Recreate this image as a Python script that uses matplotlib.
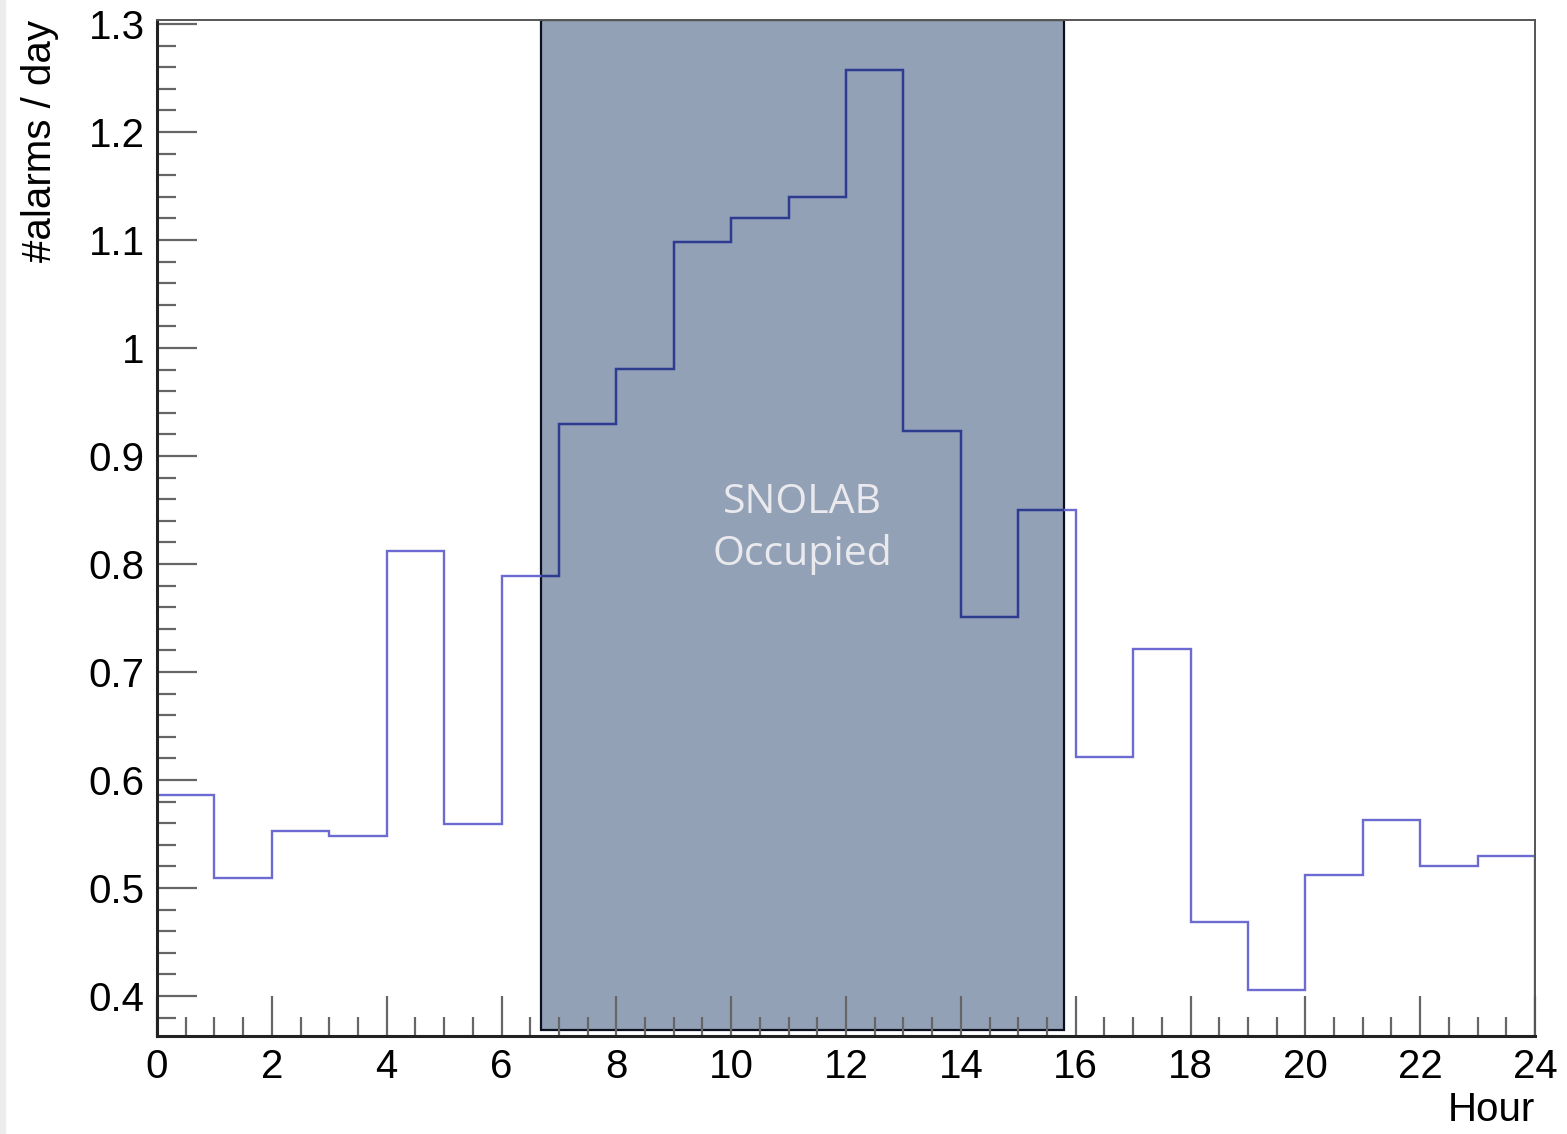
import numpy as np
import matplotlib
matplotlib.use('Agg')
import matplotlib.pyplot as plt
from matplotlib.patches import Rectangle
from matplotlib.ticker import MultipleLocator

# alarms per day, one bin per hour
hour_edges = np.arange(0, 25)
alarms = [0.586, 0.509, 0.553, 0.548, 0.812, 0.559, 0.789, 0.930,
          0.981, 1.098, 1.120, 1.140, 1.257, 0.923, 0.751, 0.850,
          0.621, 0.721, 0.469, 0.406, 0.512, 0.563, 0.520, 0.530]

# occupied period
occ_start, occ_end = 6.69, 15.80
y_lo, y_hi = 0.363, 1.3037

plt.rcParams['font.family'] = ['Liberation Sans', 'DejaVu Sans']

fig = plt.figure(figsize=(15.67, 11.34), dpi=100)
fig.patches.append(Rectangle((0, 0), 5 / 1567, 1, transform=fig.transFigure,
                             color='#ececec', zorder=0))
ax = fig.add_axes([157 / 1567, 1 - 1036 / 1134, (1535 - 157) / 1567, (1036 - 20) / 1134])

rect = Rectangle((occ_start, 0.3685), occ_end - occ_start, y_hi - 0.3685,
                 facecolor='#93a1b6', edgecolor='#0b1020', linewidth=1.6, zorder=1)
ax.add_patch(rect)

ax.stairs(alarms, hour_edges, color='#6b6bd1', linewidth=1.7, zorder=2)
inner = ax.stairs(alarms, hour_edges, color='#2e3c8e', linewidth=1.7, zorder=3)
inner.set_clip_path(rect)

mid = (occ_start + occ_end) / 2
ax.text(mid, 0.847, 'SNOLAB', ha='center', va='baseline',
        fontsize=29.5, color='#e9e9ee', family=['Open Sans', 'DejaVu Sans'], zorder=4)
ax.text(mid, 0.799, 'Occupied', ha='center', va='baseline',
        fontsize=29.5, color='#e9e9ee', family=['Open Sans', 'DejaVu Sans'], zorder=4)

ax.set_xlim(0, 24)
ax.set_ylim(y_lo, y_hi)
ax.xaxis.set_major_locator(MultipleLocator(2))
ax.xaxis.set_minor_locator(MultipleLocator(0.5))
ax.yaxis.set_minor_locator(MultipleLocator(0.02))
ax.set_yticks(np.round(np.arange(0.4, 1.31, 0.1), 1))
ax.set_yticklabels(['0.4', '0.5', '0.6', '0.7', '0.8', '0.9', '1', '1.1', '1.2', '1.3'])

ax.tick_params(which='both', direction='in', color='#666666', width=1.6,
               top=False, right=False, labelsize=29)
ax.tick_params(which='major', length=29)
ax.tick_params(which='minor', length=14)
ax.tick_params(axis='x', pad=9)
ax.tick_params(axis='y', pad=9)

for s in ['left', 'bottom']:
    ax.spines[s].set_linewidth(2.2)
    ax.spines[s].set_color('#222222')
for s in ['top', 'right']:
    ax.spines[s].set_linewidth(1.4)
    ax.spines[s].set_color('#555555')

fig.text(40 / 1567, 1 - 20 / 1134, '#alarms / day', rotation=90, ha='center', va='top',
         fontsize=29)
fig.text(1535 / 1567, 1 - 1110 / 1134, 'Hour', ha='right', va='center', fontsize=29)

fig.savefig('out.png', dpi=100)
